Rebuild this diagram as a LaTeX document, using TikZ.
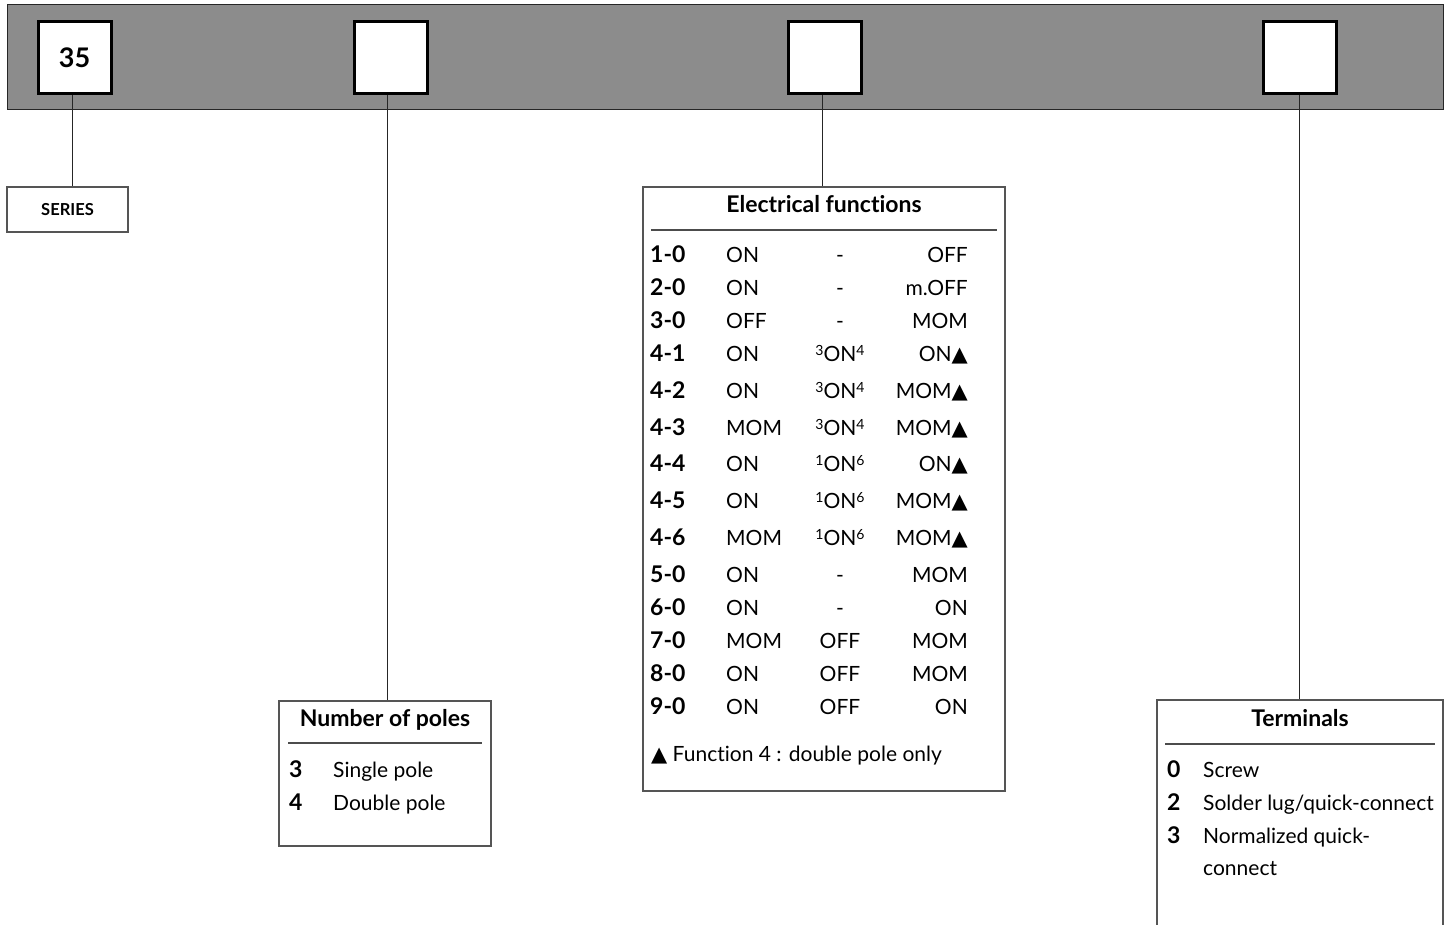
\documentclass[tikz,border=0pt]{standalone}
\usepackage{fontspec}
\setmainfont[Ligatures=NoCommon]{Lato}
\newfontfamily\symfont{DejaVu Sans}
\definecolor{bargray}{HTML}{8C8C8C}
\definecolor{linegray}{HTML}{555555}
\newcommand{\tri}{{\symfont\fontsize{21}{21}\selectfont ▲}}
\newcommand{\supn}[1]{\raisebox{0.5ex}{\fontsize{14}{14}\selectfont #1}}
\newcommand{\sON}[2]{\supn{#1}ON\supn{#2}}
\begin{document}
\begin{tikzpicture}[x=1pt,y=-1pt,
  bar/.style={draw=black!85,line width=1pt,fill=bargray,inner sep=0pt,minimum width=1436pt,minimum height=105pt},
  slot/.style={draw=black,line width=3pt,fill=white,inner sep=0pt,minimum width=73pt,minimum height=72pt,
     font=\fontsize{27}{27}\selectfont\bfseries},
  panel/.style={draw=linegray,line width=1.1pt,fill=white,inner sep=0pt},
  conn/.style={draw=black!85,line width=1pt},
  rule/.style={draw=black!70,line width=1.3pt},
  ttl/.style={font=\fontsize{23}{23}\selectfont\bfseries,inner sep=0pt,anchor=base},
  txt/.style={font=\fontsize{21}{24}\selectfont,inner sep=0pt},
  num/.style={font=\fontsize{23}{24}\selectfont\bfseries,inner sep=0pt,anchor=base west}
]
\path[use as bounding box] (0,0) rectangle (1450,925);
% top bar with slots
\node[bar] (bar) at (725,57.5) {};
\node[slot] (s1) at (74.5,58) {35};
\node[slot] (s2) at (390.5,58) {};
\node[slot] (s3) at (825,58) {};
\node[slot] (s4) at (1300,58) {};

% SERIES
\node[panel,minimum width=121pt,minimum height=45pt,font=\fontsize{16.5}{16.5}\selectfont\bfseries] (series) at (67.5,209.5) {SERIES};

% Number of poles
\node[panel,minimum width=212pt,minimum height=145pt] (poles) at (385,773.5) {};
\node[ttl] (polesT) at (385,726) {Number of poles};
\coordinate (pr1) at (288,743);
\coordinate (pr2) at (482,743);
\draw[rule] (pr1) -- (pr2);
\node[num] (p3) at (289,777) {3};
\node[txt,anchor=base west] (p3t) at (333,777) {Single pole};
\node[num] (p4) at (289,810) {4};
\node[txt,anchor=base west] (p4t) at (333,810) {Double pole};

% Electrical functions
\node[panel,minimum width=362pt,minimum height=604pt] (elec) at (824,489) {};
\node[ttl] (elecT) at (824,213) {Electrical functions};
\coordinate (er1) at (651,230);
\coordinate (er2) at (997,230);
\draw[rule] (er1) -- (er2);
\foreach \c/\a/\b/\d/\y in {
  1-0/ON/-/OFF/254, 2-0/ON/-/m.OFF/287, 3-0/OFF/-/MOM/320,
  4-1/ON/\sON{3}{4}/ON\tri/353, 4-2/ON/\sON{3}{4}/MOM\tri/390,
  4-3/MOM/\sON{3}{4}/MOM\tri/427, 4-4/ON/\sON{1}{6}/ON\tri/463,
  4-5/ON/\sON{1}{6}/MOM\tri/500, 4-6/MOM/\sON{1}{6}/MOM\tri/537,
  5-0/ON/-/MOM/574, 6-0/ON/-/ON/607, 7-0/MOM/OFF/MOM/640,
  8-0/ON/OFF/MOM/673, 9-0/ON/OFF/ON/706}{
  \node[num] (ec\y) at (650,\y+8) {\c};
  \node[txt,anchor=base west] (ea\y) at (726,\y+8) {\a};
  \node[txt,anchor=base] (eb\y) at (840,\y+8) {\b};
  \node[txt,anchor=base east] (ed\y) at (968,\y+8) {\d};
}
\node[txt,anchor=base west] (foot) at (651,761) {\tri\ Function 4 : double pole only};

% Terminals (bottom runs off the picture)
\node[panel,minimum width=286pt,minimum height=260pt] (term) at (1300,830) {};
\node[ttl] (termT) at (1300,726) {Terminals};
\coordinate (tr1) at (1165,744);
\coordinate (tr2) at (1435,744);
\draw[rule] (tr1) -- (tr2);
\node[num] (t0) at (1167,777) {0};
\node[txt,anchor=base west] (t0t) at (1203,777) {Screw};
\node[num] (t2) at (1167,810) {2};
\node[txt,anchor=base west] (t2t) at (1203,810) {Solder lug/quick-connect};
\node[num] (t3) at (1167,843) {3};
\node[txt,anchor=base west] (t3t) at (1203,843) {Normalized quick-};
\node[txt,anchor=base west] (t3u) at (1203,875) {connect};

% connectors (slightly left of the slot centres, as in the original)
\draw[conn] ([xshift=-2.5pt]s1.south) -- ([xshift=-2.5pt]s1.south |- series.north);
\draw[conn] ([xshift=-3.5pt]s2.south) -- ([xshift=-3.5pt]s2.south |- poles.north);
\draw[conn] ([xshift=-2.5pt]s3.south) -- ([xshift=-2.5pt]s3.south |- elec.north);
\draw[conn] ([xshift=-1pt]s4.south) -- ([xshift=-1pt]s4.south |- term.north);
\end{tikzpicture}
\end{document}
